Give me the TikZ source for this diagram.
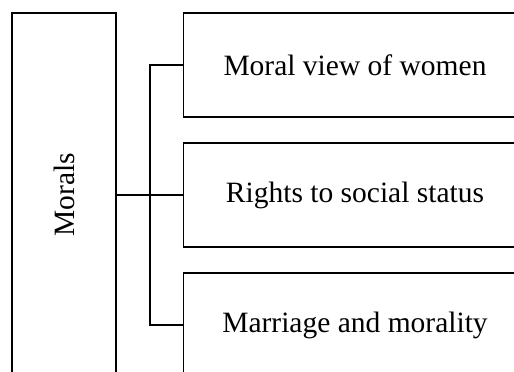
\documentclass[tikz,border=0pt]{standalone}
\usepackage{fontspec}
\setmainfont{Liberation Serif}
\usetikzlibrary{positioning}
\usetikzlibrary{calc}
\tikzset{box/.style={rectangle,draw=black,line width=1.7pt,inner sep=0pt,font=\fontsize{29.5}{34}\selectfont}}
\tikzset{topic/.style={box,minimum width=343pt,minimum height=104pt}}
\tikzset{link/.style={line width=1.7pt}}

\begin{document}
\begin{tikzpicture}[x=1pt,y=1pt]
\clip (0,0) rectangle (514,-372);

\node[box,minimum width=104pt,minimum height=364pt] at (64,-195) (morals) {};
\node[rotate=90,font=\fontsize{29.5}{34}\selectfont] at (morals.center) (moralsl) {Morals};

\node[topic] at (355,-65) (view) {Moral view of women};
\node[topic] at (355,-195) (rights) {Rights to social status};
\node[topic] at (355,-325) (marriage) {Marriage and morality};

\coordinate (J) at (150,-195);

\draw[link] (morals.east) -- (rights.west);
\draw[link] (view.west) -| (J) |- (marriage.west);

\end{tikzpicture}
\end{document}
